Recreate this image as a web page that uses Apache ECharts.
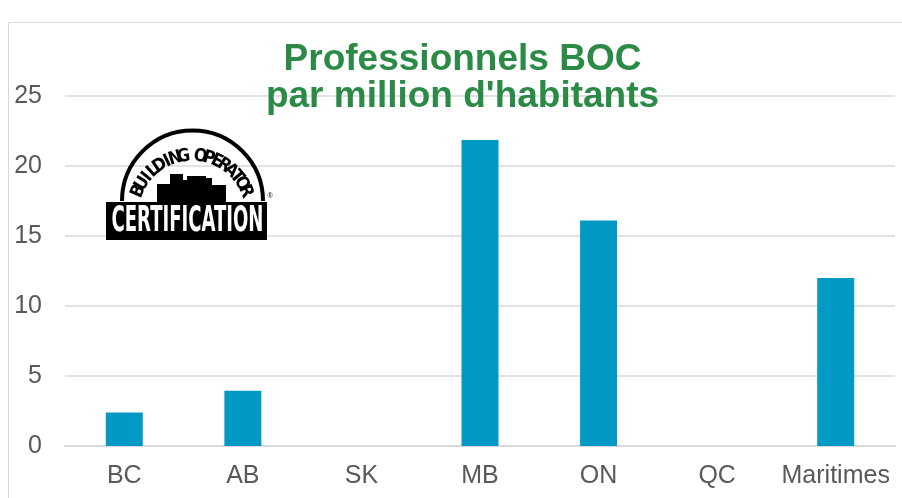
<!DOCTYPE html>
<html>
<head>
<meta charset="utf-8">
<script src="https://cdn.jsdelivr.net/npm/echarts@6/dist/echarts.min.js"></script>
<style>
  html, body { margin: 0; padding: 0; background: #fff; }
  #chart { width: 902px; height: 498px; }
</style>
</head>
<body>
<div id="chart"></div>
<script>
var regions = ['BC', 'AB', 'SK', 'MB', 'ON', 'QC', 'Maritimes'];
var bocPerMillion = [2.4, 3.95, 0, 21.85, 16.1, 0, 12.0];
var yTicks = [0, 5, 10, 15, 20, 25];

var axisGrey = '#595959';
var barColor = '#0299c5';
var titleGreen = '#2b8a45';
var narrowFont = '"Liberation Sans Narrow", "DejaVu Sans Condensed", sans-serif';

// largeur du texte pour le tasser dans le bandeau
function fitScale(text, font, target) {
  var ctx = document.createElement('canvas').getContext('2d');
  ctx.font = font;
  return target / ctx.measureText(text).width;
}

// logo : arc + lettres + silhouette + bandeau
function buildLogo() {
  var els = [];
  els.push({
    type: 'arc', z: 100,
    shape: { cx: 192.5, cy: 201, r: 70.5, startAngle: Math.PI, endAngle: 2 * Math.PI },
    style: { stroke: '#000', lineWidth: 4, fill: null }
  });
  var word = 'BUILDING OPERATOR';
  var lcx = 192, lcy = 214, lr = 58;
  var a0 = 203, a1 = 337;
  var step = (a1 - a0) / (word.length - 1);
  for (var i = 0; i < word.length; i++) {
    var th = a0 + step * i;
    var rad = th * Math.PI / 180;
    els.push({
      type: 'text', z: 100,
      x: lcx + lr * Math.cos(rad),
      y: lcy + lr * Math.sin(rad),
      rotation: (270 - th) * Math.PI / 180,
      style: {
        text: word[i], fill: '#000',
        font: 'bold 18px ' + narrowFont,
        align: 'center', verticalAlign: 'middle'
      }
    });
  }
  els.push({
    type: 'polygon', z: 100,
    shape: { points: [[157, 202], [157, 184], [170, 184], [170, 174], [183, 174], [183, 180], [187, 180], [187, 176], [206, 176], [206, 178], [212, 178], [212, 185], [226, 185], [226, 202]] },
    style: { fill: '#000' }
  });
  els.push({
    type: 'rect', z: 100,
    shape: { x: 106, y: 202, width: 161, height: 38 },
    style: { fill: '#000' }
  });
  var certFont = 'bold 35px ' + narrowFont;
  els.push({
    type: 'text', z: 101,
    x: 187.5, y: 222,
    scaleX: fitScale('CERTIFICATION', certFont, 152),
    style: {
      text: 'CERTIFICATION', fill: '#fff',
      font: certFont,
      align: 'center', verticalAlign: 'middle'
    }
  });
  els.push({
    type: 'text', z: 100,
    x: 270, y: 196,
    style: { text: '®', fill: '#000', font: '7px sans-serif', align: 'center', verticalAlign: 'middle' }
  });
  return els;
}

var myChart = echarts.init(document.getElementById('chart'));
var option = {
  backgroundColor: '#fff',
  animation: false,
  title: {
    text: 'Professionnels BOC\npar million d\'habitants',
    left: 457.5,
    top: 36,
    textAlign: 'center',
    textStyle: {
      color: titleGreen,
      fontFamily: '"Liberation Sans", Arial, sans-serif',
      fontWeight: 'bold',
      fontSize: 37,
      lineHeight: 37
    }
  },
  grid: { left: 65, right: 7, top: 96, bottom: 52, containLabel: false },
  xAxis: {
    type: 'category',
    data: regions,
    axisTick: { show: false },
    axisLine: { lineStyle: { color: '#d9d9d9', width: 2 } },
    axisLabel: {
      interval: 0,
      color: axisGrey, fontSize: 25, margin: 18,
      fontFamily: '"Liberation Sans", Arial, sans-serif'
    }
  },
  yAxis: {
    type: 'value',
    min: yTicks[0],
    max: yTicks[yTicks.length - 1],
    interval: 5,
    axisLine: { show: false },
    axisTick: { show: false },
    splitLine: { lineStyle: { color: '#d9d9d9', width: 1.5 } },
    axisLabel: {
      color: axisGrey, fontSize: 25, margin: 23,
      fontFamily: '"Liberation Sans", Arial, sans-serif'
    }
  },
  series: [{
    type: 'bar',
    data: bocPerMillion,
    barWidth: 37,
    itemStyle: { color: barColor }
  }],
  graphic: [{
    type: 'rect',
    shape: { x: 8.5, y: 22.5, width: 1000, height: 1000 },
    style: { fill: null, stroke: '#d9d9d9', lineWidth: 1 },
    silent: true
  }, {
    type: 'group',
    children: buildLogo()
  }]
};
myChart.setOption(option);
</script>
</body>
</html>
